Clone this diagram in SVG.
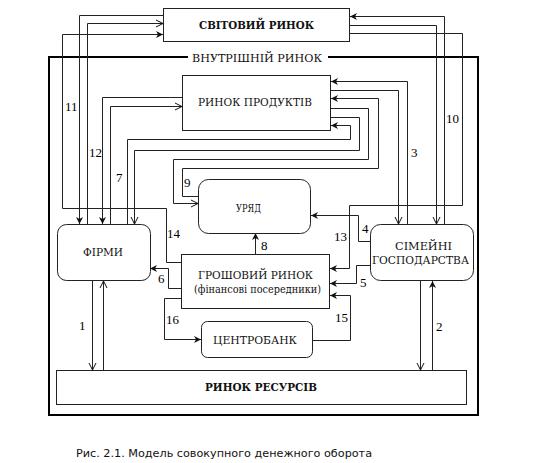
<svg xmlns="http://www.w3.org/2000/svg" width="543" height="463" viewBox="0 0 543 463">
<defs>
<marker id="af" markerUnits="userSpaceOnUse" markerWidth="9" markerHeight="8" refX="7" refY="3.5" orient="auto" overflow="visible">
<path d="M0,0 L7,3.5 L0,7 L2,3.5 z" fill="#111"/>
</marker>
<marker id="ao" markerUnits="userSpaceOnUse" markerWidth="9" markerHeight="8" refX="7" refY="3.5" orient="auto" overflow="visible">
<path d="M0,0 L7,3.5 L0,7" fill="none" stroke="#111" stroke-width="1"/>
</marker>
</defs>
<style>
.box{fill:#fff;stroke:#222;stroke-width:1}
.t{font-family:"DejaVu Serif",serif;font-size:11.5px;fill:#111;text-anchor:middle}
.b{font-weight:bold}
.n{font-family:"Liberation Serif","DejaVu Serif",serif;font-size:13px;fill:#000}
.c{fill:none;stroke:#222;stroke-width:1}
.f{marker-end:url(#af)}
.o{marker-end:url(#ao)}
.cap{font-family:"DejaVu Sans",Verdana,sans-serif;font-size:11px;fill:#111}
</style>
<rect width="543" height="463" fill="#fff"/>
<path d="M188,57 H49 V415 H478 V57 H328" fill="none" stroke="#000" stroke-width="2"/>
<text class="t" x="257" y="61.5" textLength="130" lengthAdjust="spacingAndGlyphs">ВНУТРІШНІЙ РИНОК</text>

<g id="connectors">
<path class="c f" d="M163,15.5 H79.5 V224"/>
<path class="c o" d="M87.5,224 V23.5 H163"/>
<path class="c f" d="M181,262.5 H166.5 V208.5 H62.5 V34.5 H163"/>
<path class="c f" d="M182,97.5 H102.5 V224"/>
<path class="c o" d="M110.5,224 V106.5 H182"/>
<path class="c f" d="M127.5,224 V139.5 H350.5 V125.5 H331"/>
<path class="c o" d="M331,117.5 H359.5 V150.5 H134.5 V224"/>
<path class="c o" d="M331,108.5 H368.5 V159.5 H173.5 V203.5 H198"/>
<path class="c f" d="M198,196.5 H182.5 V168.5 H378.5 V98.5 H331"/>
<path class="c f" d="M407.5,224 V81.5 H331"/>
<path class="c o" d="M331,90.5 H398.5 V224"/>
<path class="c f" d="M444.5,224 V16.5 H350"/>
<path class="c o" d="M350,25.5 H436.5 V224"/>
<path class="c f" d="M350,33.5 H462.5 V205.5 H349.5 V268.5 H330"/>
<path class="c f" d="M370,241.5 H358.5 V215.5 H311"/>
<path class="c f" d="M370,265.5 H356.5 V283.5 H330"/>
<path class="c f" d="M313,340.5 H350.5 V295.5 H330"/>
<path class="c f" d="M255.5,254 V233"/>
<path class="c f" d="M181,288.5 H168.5 V268.5 H150"/>
<path class="c f" d="M181,298.5 H164.5 V339.5 H201"/>
<path class="c o" d="M92.5,281 V370"/>
<path class="c o" d="M103.5,370 V281"/>
<path class="c o" d="M420.5,281 V370"/>
<path class="c f" d="M432.5,370 V281"/>
</g>

<g id="labels">
<text class="n" x="65" y="111">11</text>
<text class="n" x="89" y="157">12</text>
<text class="n" x="116" y="182">7</text>
<text class="n" x="184" y="187">9</text>
<text class="n" x="167" y="238">14</text>
<text class="n" x="158" y="283">6</text>
<text class="n" x="261" y="250">8</text>
<text class="n" x="166" y="324">16</text>
<text class="n" x="79" y="330">1</text>
<text class="n" x="411" y="157">3</text>
<text class="n" x="446" y="123">10</text>
<text class="n" x="362" y="233">4</text>
<text class="n" x="334" y="241">13</text>
<text class="n" x="360" y="287">5</text>
<text class="n" x="335" y="322">15</text>
<text class="n" x="436" y="331">2</text>
</g>

<g id="svitovyi-rynok">
<rect class="box" x="163.5" y="8.5" width="186" height="33"/>
<text class="t b" x="256.5" y="28.5" textLength="115" lengthAdjust="spacingAndGlyphs">СВІТОВИЙ РИНОК</text>
</g>
<g id="rynok-produktiv">
<rect class="box" x="182.5" y="75.5" width="148" height="55"/>
<text class="t" x="255" y="105.5" textLength="114" lengthAdjust="spacingAndGlyphs">РИНОК ПРОДУКТІВ</text>
</g>
<g id="uriad">
<rect class="box" x="198.5" y="179.5" width="112" height="54" rx="10"/>
<text class="t" x="248.5" y="212" textLength="25" lengthAdjust="spacingAndGlyphs">УРЯД</text>
</g>
<g id="firmy">
<rect class="box" x="57.5" y="224.5" width="93" height="56" rx="9"/>
<text class="t" x="103" y="256" textLength="40" lengthAdjust="spacingAndGlyphs">ФІРМИ</text>
</g>
<g id="simeini-hospodarstva">
<rect class="box" x="370.5" y="224.5" width="103" height="56" rx="10"/>
<text class="t" x="423.5" y="250" textLength="57" lengthAdjust="spacingAndGlyphs">СІМЕЙНІ</text>
<text class="t" x="420.5" y="263.5" textLength="97" lengthAdjust="spacingAndGlyphs">ГОСПОДАРСТВА</text>
</g>
<g id="hroshovyi-rynok">
<rect class="box" x="181.5" y="254.5" width="148" height="54"/>
<text class="t" x="255.5" y="279" font-size="10.5" textLength="115" lengthAdjust="spacingAndGlyphs">ГРОШОВИЙ РИНОК</text>
<text class="t" x="257.5" y="293" font-size="10.5" textLength="127" lengthAdjust="spacingAndGlyphs">(фінансові посередники)</text>
</g>
<g id="tsentrobank">
<rect class="box" x="201.5" y="321.5" width="111" height="36" rx="6"/>
<text class="t" x="255" y="344" textLength="84" lengthAdjust="spacingAndGlyphs">ЦЕНТРОБАНК</text>
</g>
<g id="rynok-resursiv">
<rect class="box" x="56.5" y="370.5" width="410" height="34"/>
<text class="t b" x="261" y="391" textLength="112" lengthAdjust="spacingAndGlyphs">РИНОК РЕСУРСІВ</text>
</g>

<text class="cap" x="76" y="457" textLength="296" lengthAdjust="spacingAndGlyphs">Рис. 2.1. Модель совокупного денежного оборота</text>
</svg>
